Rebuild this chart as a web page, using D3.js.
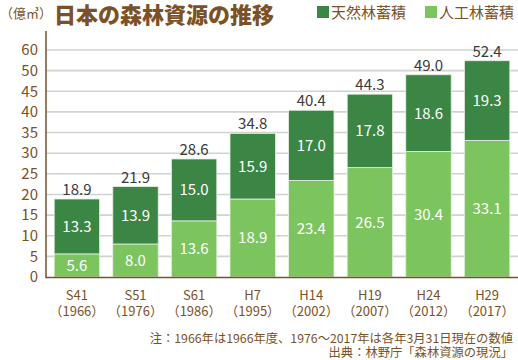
<!DOCTYPE html>
<html><head><meta charset="utf-8">
<script src="https://cdn.jsdelivr.net/npm/d3@7/dist/d3.min.js"></script>
<style>html,body{margin:0;padding:0;background:#fff;}svg{display:block;}</style>
</head><body>
<svg id="c" width="518" height="360"></svg>
<script>
const categories = ["S41", "S51", "S61", "H7", "H14", "H19", "H24", "H29"];
const years = ["（1966）", "（1976）", "（1986）", "（1995）", "（2002）", "（2007）", "（2012）", "（2017）"];
const planted = [5.6, 8.0, 13.6, 18.9, 23.4, 26.5, 30.4, 33.1];   // 人工林蓄積
const natural = [13.3, 13.9, 15.0, 15.9, 17.0, 17.8, 18.6, 19.3]; // 天然林蓄積
const totals = [18.9, 21.9, 28.6, 34.8, 40.4, 44.3, 49.0, 52.4];
const tickValues = [0, 5, 10, 15, 20, 25, 30, 35, 40, 45, 50, 55];
const tickLabels = ["0", "5", "10", "15", "20", "25", "30", "35", "40", "45", "50", "60"];

const brown = "#7b5127", dark = "#3b8545", light = "#7cc45e";
const JP = "'Noto Sans CJK JP','Noto Sans',sans-serif";
const svg = d3.select("#c");

const x = d3.scaleBand().domain(categories).range([46, 518]).paddingInner(0.225).paddingOuter(0.14);
const y = d3.scaleLinear().domain([0, 55]).range([277, 50]);

// gridlines
svg.append("g").selectAll("line").data(tickValues.slice(1)).join("line")
  .attr("x1", 46).attr("x2", 518).attr("y1", d => y(d)).attr("y2", d => y(d))
  .attr("stroke", "#d2d2d2").attr("stroke-width", 1.6);

// y axis labels
const yAxis = d3.axisLeft(y).tickValues(tickValues).tickFormat((d, i) => tickLabels[i]).tickSize(0).tickPadding(8);
const ya = svg.append("g").attr("transform", "translate(46,0)").call(yAxis);
ya.select(".domain").remove();
ya.selectAll("text").attr("fill", brown).style("font-family", JP).style("font-size", "15px");

// bars
const data = categories.map((c, i) => ({c, p: planted[i], n: natural[i], t: totals[i], yr: years[i]}));
const g = svg.append("g");
g.selectAll("rect.p").data(data).join("rect").attr("class", "p")
  .attr("x", d => x(d.c)).attr("width", x.bandwidth())
  .attr("y", d => y(d.p)).attr("height", d => y(0) - y(d.p))
  .attr("fill", light).attr("stroke", "#e6efe2").attr("stroke-width", 0.8);
g.selectAll("rect.n").data(data).join("rect").attr("class", "n")
  .attr("x", d => x(d.c)).attr("width", x.bandwidth())
  .attr("y", d => y(d.p + d.n)).attr("height", d => y(d.p) - y(d.p + d.n))
  .attr("fill", dark).attr("stroke", "#e6efe2").attr("stroke-width", 0.8);

const cx = d => x(d.c) + x.bandwidth() / 2;
g.selectAll("text.pl").data(data).join("text")
  .attr("x", cx).attr("y", d => (y(0) + y(d.p)) / 2).attr("dy", "0.36em")
  .attr("text-anchor", "middle").attr("fill", "#fff").style("font-family", JP).style("font-size", "15px")
  .text(d => d.p.toFixed(1));
g.selectAll("text.nl").data(data).join("text")
  .attr("x", cx).attr("y", d => (y(d.p) + y(d.p + d.n)) / 2).attr("dy", "0.36em")
  .attr("text-anchor", "middle").attr("fill", "#fff").style("font-family", JP).style("font-size", "15px")
  .text(d => d.n.toFixed(1));
g.selectAll("text.tl").data(data).join("text")
  .attr("x", cx).attr("y", d => y(d.p + d.n) - 4)
  .attr("text-anchor", "middle").attr("fill", "#3a3a3a").style("font-family", JP).style("font-size", "15px")
  .text(d => d.t.toFixed(1));

// axes lines
svg.append("line").attr("x1", 46).attr("x2", 46).attr("y1", 31).attr("y2", 277.5).attr("stroke", brown).attr("stroke-width", 1.5);
svg.append("line").attr("x1", 45.3).attr("x2", 518).attr("y1", 277.5).attr("y2", 277.5).attr("stroke", brown).attr("stroke-width", 1.5);

// x labels
const xl = svg.append("g").selectAll("text").data(data).join("text")
  .attr("text-anchor", "middle").attr("fill", brown).style("font-family", JP).style("font-size", "13px");
xl.append("tspan").attr("x", cx).attr("y", 299.5).text(d => d.c);
xl.append("tspan").attr("x", cx).attr("y", 316).text(d => d.yr);

// title
svg.append("text").attr("x", 0).attr("y", 18).attr("fill", brown).style("font-family", JP).style("font-size", "13px").text("（億㎥）");
svg.append("text").attr("x", 54).attr("y", 23).attr("fill", brown).style("font-family", JP).style("font-size", "22px").style("font-weight", "900").text("日本の森林資源の推移");

// legend
const legend = [{t: "天然林蓄積", c: dark, x: 317}, {t: "人工林蓄積", c: light, x: 425}];
const lg = svg.append("g").selectAll("g").data(legend).join("g");
lg.append("rect").attr("x", d => d.x).attr("y", 6).attr("width", 12).attr("height", 12).attr("fill", d => d.c);
lg.append("text").attr("x", d => d.x + 14).attr("y", 18).attr("fill", brown).style("font-family", JP).style("font-size", "15px").text(d => d.t);

// footnotes
svg.append("text").attr("x", 513).attr("y", 342.5).attr("text-anchor", "end").attr("fill", brown).style("font-family", JP).style("font-size", "12.3px").text("注：1966年は1966年度、1976～2017年は各年3月31日現在の数値");
svg.append("text").attr("x", 513).attr("y", 357).attr("text-anchor", "end").attr("fill", brown).style("font-family", JP).style("font-size", "12.3px").text("出典：林野庁「森林資源の現況」");
</script>
</body></html>
